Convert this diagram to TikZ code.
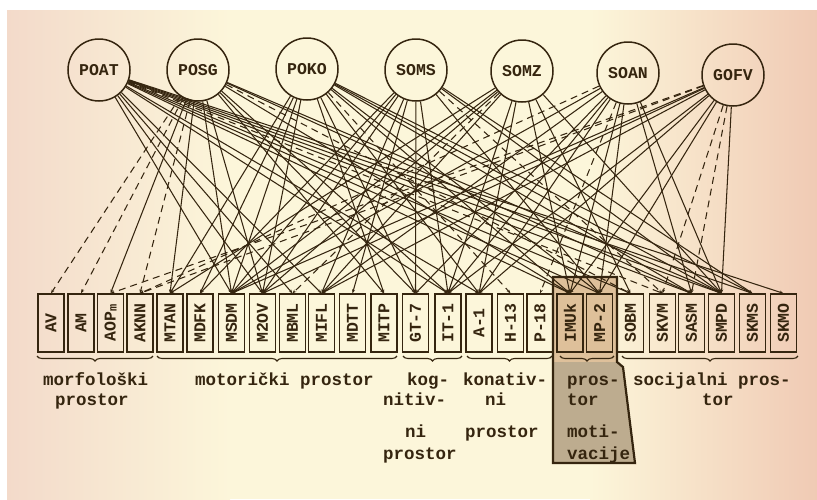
\documentclass[tikz,border=0pt]{standalone}
\usepackage{fontspec}
\setmonofont{Liberation Mono}
\usetikzlibrary{arrows.meta,decorations.pathreplacing}
\definecolor{ink}{HTML}{35250F}
\definecolor{paperL}{HTML}{F3DACA}
\definecolor{paperM}{HTML}{FCF6DA}
\definecolor{paperR}{HTML}{F0CAB4}
\definecolor{shadeTop}{HTML}{DEC09A}
\definecolor{shadeLow}{HTML}{BDAC8F}
\newcommand\lowm{\raisebox{-1pt}{\fontsize{12}{12}\selectfont m}}
\tikzset{
  factor/.style={circle, draw=ink, line width=1.5pt, minimum size=62pt, inner sep=0pt,
    font=\ttfamily\bfseries\fontsize{16.5}{16.5}\selectfont, text=ink},
  var/.style={draw=ink, line width=1.3pt, minimum width=58pt, minimum height=26pt,
    inner sep=0pt, rotate=90, font=\ttfamily\bfseries\fontsize{16.5}{16.5}\selectfont, text=ink},
  link/.style={draw=ink, line width=1.05pt, -{Stealth[length=4pt,width=3pt]}},
  dlink/.style={link, dash pattern=on 7pt off 5pt},
  grp/.style={draw=ink, line width=1.1pt, decorate, decoration={brace, amplitude=5pt, mirror}},
  lbl/.style={anchor=base west, inner sep=0pt, text=ink,
    font=\ttfamily\bfseries\fontsize{17.5}{20}\selectfont}
}
\begin{document}
\begin{tikzpicture}[x=1pt, y=-1pt]
  \useasboundingbox (0,0) rectangle (817,499);
  \fill[white] (0,0) rectangle (817,499);
  % paper: pinkish at both edges, cream in the middle
  \shade[left color=paperL, right color=paperM] (7,10) rectangle (230,499);
  \fill[paperM] (229.5,10) rectangle (590.5,499);
  \shade[left color=paperM, right color=paperR] (590,10) rectangle (817,499);

  % shaded field behind the motivation variables
  \fill[shadeTop] (553,277) rectangle (617,362);
  \fill[shadeLow] (553,362) -- (617,362) -- (623,367) -- (635,463) -- (553,463) -- cycle;

  % latent factors
  \foreach \n/\x/\y/\t in {1/99/70/POAT, 2/198/70/POSG, 3/307/69/POKO, 4/416/70/SOMS,
                          5/522/71/SOMZ, 6/628/73/SOAN, 7/733/75/GOFV}
    \node[factor] (c\n) at (\x,\y) {\t};

  % manifest variables
  \foreach \n/\x/\t in {1/51/AV, 2/81/AM, 3/110.5/{AOP\lowm}, 4/140/AKNN, 5/170/MTAN,
                       6/200/MDFK, 7/231.5/MSDM, 8/262.5/M2OV, 9/292.5/MBML, 10/321.5/MIFL,
                       11/352.5/MDTT, 12/384/MITP, 13/415.5/GT-7, 14/448/IT-1, 15/479/A-1,
                       16/510.5/H-13, 17/540/P-18, 18/570/IMUk, 19/599.5/MP-2, 20/630.5/SOBM,
                       21/662.5/SKVM, 22/691.5/SASM, 23/721.5/SMPD, 24/752.5/SKMS, 25/783.5/SKMO}
    \node[var] (b\n) at (\x,323) {\t};

  % solid loadings (the boxes are turned, so their top side is the east anchor)
  \foreach \s/\t in {1/7,1/8,1/9,1/10,1/14,1/15,1/18,1/19,1/20,1/22,1/23,1/24,1/25,
                     2/3,2/5,2/7,2/8,2/12,2/13,2/14,2/18,2/22,2/23,
                     3/5,3/6,3/7,3/8,3/12,3/13,3/15,3/18,3/19,3/22,3/23,3/24,
                     4/6,4/7,4/8,4/10,4/11,4/13,4/14,4/19,4/23,4/24,
                     5/5,5/7,5/8,5/10,5/14,5/15,5/18,5/20,5/23,
                     6/7,6/10,6/13,6/14,6/15,6/18,6/19,6/22,6/23,
                     7/7,7/8,7/10,7/14,7/15,7/18,7/19,7/23}
    \draw[link] (c\s) -- (b\t.east);

  % dashed loadings
  \foreach \s/\t in {1/21,2/1,2/2,2/4,2/20,3/16,4/21,5/9,6/4,6/17,7/3,7/4,7/21,7/22}
    \draw[dlink] (c\s) -- (b\t.east);

  % outline of the motivation field
  \draw[ink, line width=2.2pt, line join=miter]
    (553,277) -- (617,277) -- (617,362) -- (623,367) -- (635,463) -- (553,463) -- cycle;

  % group braces
  \draw[grp] (37,356) -- (153,356);
  \draw[grp] (157,356) -- (397,356);
  \draw[grp] (403,356) -- (462,356);
  \draw[grp] (467,356) -- (552,356);
  \draw[grp] (560,356) -- (614,356);
  \draw[grp] (622,356) -- (798,356);

  % group names
  \node[lbl] (t1) at (43,385) {morfološki};
  \node[lbl] (t2) at (55,405) {prostor};
  \node[lbl] (t3) at (195,385) {motorički prostor};
  \node[lbl] (t4) at (407,385) {kog-};
  \node[lbl] (t5) at (383,405) {nitiv-};
  \node[lbl] (t6) at (405,437) {ni};
  \node[lbl] (t7) at (383,459) {prostor};
  \node[lbl] (t8) at (463,385) {konativ-};
  \node[lbl] (t9) at (485,405) {ni};
  \node[lbl] (t10) at (465,437) {prostor};
  \node[lbl] (t11) at (567,385) {pros-};
  \node[lbl] (t12) at (567,405) {tor};
  \node[lbl] (t13) at (567,437) {moti-};
  \node[lbl] (t14) at (567,459) {vacije};
  \node[lbl] (t15) at (633,385) {socijalni pros-};
  \node[lbl] (t16) at (702,405) {tor};
\end{tikzpicture}
\end{document}
